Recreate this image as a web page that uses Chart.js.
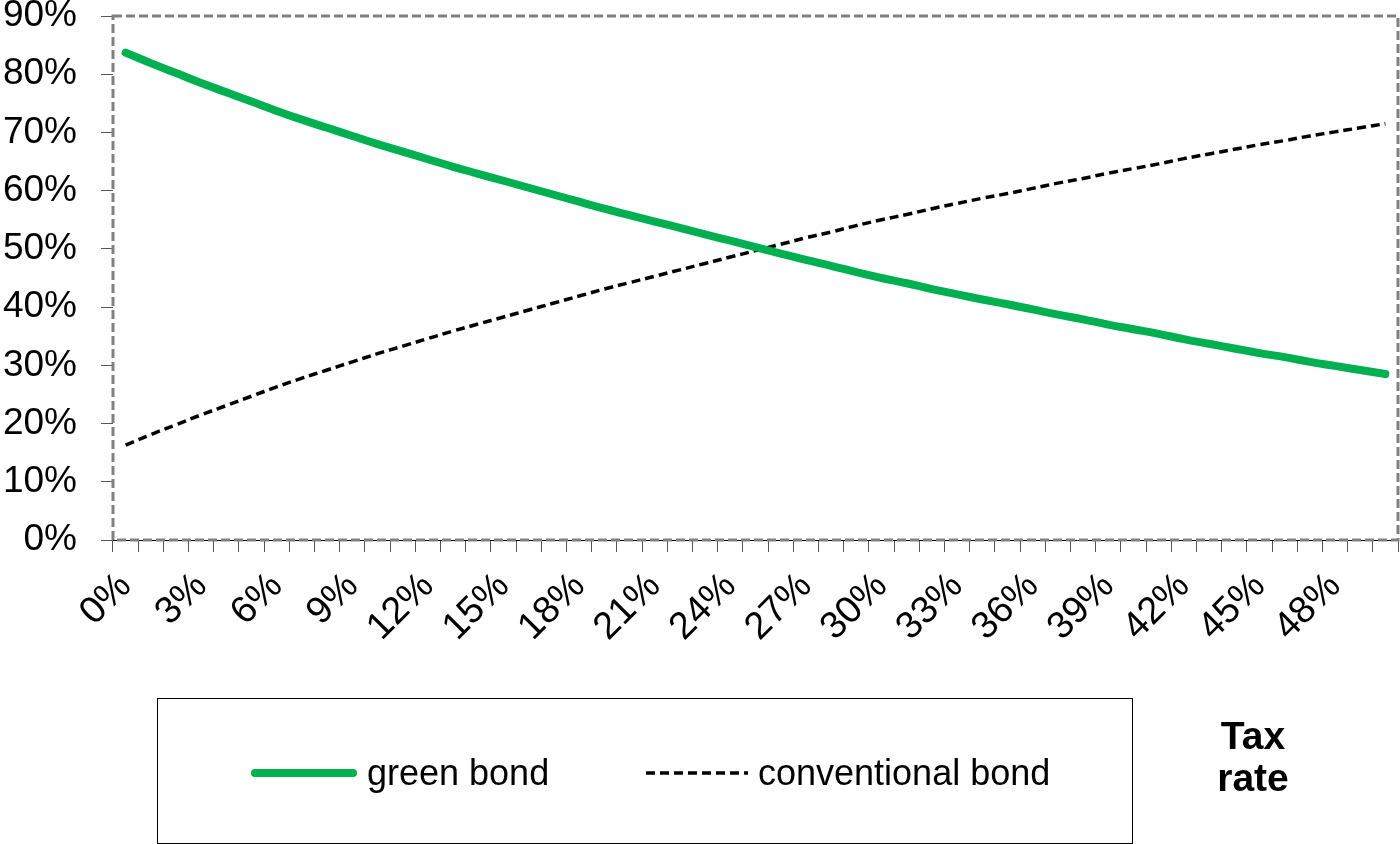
<!DOCTYPE html>
<html>
<head>
<meta charset="utf-8">
<script src="https://cdn.jsdelivr.net/npm/chart.js@4"></script>
<style>
  body { margin: 0; background: #fff; font-family: "Liberation Sans", Arial, sans-serif; }
  #wrap { position: relative; width: 1400px; height: 844px; }
  #legend-box { position: absolute; left: 157px; top: 698px; width: 976px; height: 146px;
    border: 1px solid #000; box-sizing: border-box; }
  .legend-item { position: absolute; top: 54px; height: 40px; display: flex; align-items: center;
    font-size: 36px; color: #000; white-space: nowrap; }
  .legend-item svg { margin-right: 10px; }
  #axis-title { position: absolute; left: 1198px; top: 715px; width: 110px; text-align: center;
    font-size: 39px; font-weight: bold; line-height: 42px; color: #000; }
</style>
</head>
<body>
<div id="wrap">
  <canvas id="chart-tax" width="1400" height="844"></canvas>
  <div id="legend-box"></div>
  <div id="axis-title">Tax<br>rate</div>
</div>
<script>
// --- data ---
const taxRates = ['0%','1%','2%','3%','4%','5%','6%','7%','8%','9%','10%',
  '11%','12%','13%','14%','15%','16%','17%','18%','19%','20%',
  '21%','22%','23%','24%','25%','26%','27%','28%','29%','30%',
  '31%','32%','33%','34%','35%','36%','37%','38%','39%','40%',
  '41%','42%','43%','44%','45%','46%','47%','48%','49%','50%'];

const greenBond = [83.7,81.9,80.2,78.5,76.9,75.3,73.7,72.2,70.8,69.4,68.0,
  66.7,65.4,64.1,62.9,61.7,60.5,59.3,58.1,56.9,55.8,
  54.7,53.6,52.5,51.4,50.3,49.2,48.1,47.1,46.0,45.0,
  44.1,43.1,42.2,41.3,40.5,39.6,38.7,37.9,37.0,36.2,
  35.4,34.5,33.7,32.9,32.1,31.4,30.6,29.9,29.2,28.5];

const conventionalBond = [16.3,18.1,19.8,21.5,23.1,24.7,26.3,27.8,29.2,30.6,32.0,
  33.3,34.6,35.9,37.1,38.3,39.5,40.7,41.9,43.1,44.2,
  45.3,46.4,47.5,48.6,49.7,50.8,51.9,52.9,54.0,55.0,
  55.9,56.9,57.8,58.7,59.5,60.4,61.3,62.1,63.0,63.8,
  64.6,65.5,66.3,67.1,67.9,68.6,69.4,70.1,70.8,71.5];

const seriesNames = ['green bond', 'conventional bond'];

// gray dashed frame around the plot area
const plotFrame = {
  id: 'plotFrame',
  beforeDatasetsDraw(chart) {
    const a = chart.chartArea;
    const ctx = chart.ctx;
    ctx.save();
    ctx.strokeStyle = '#808080';
    ctx.lineWidth = 3;
    ctx.setLineDash([9, 4]);
    ctx.strokeRect(a.left, a.top, a.right - a.left, a.bottom - a.top);
    ctx.restore();
  }
};

const tickFont = { family: '"Liberation Sans", Arial, sans-serif', size: 37 };

const chart = new Chart(document.getElementById('chart-tax'), {
  type: 'line',
  data: {
    labels: taxRates,
    datasets: [{
      label: seriesNames[0],
      data: greenBond,
      borderColor: '#00B050',
      borderWidth: 8,
      borderCapStyle: 'round',
      pointRadius: 0,
      tension: 0.4,
      fill: false
    }, {
      label: seriesNames[1],
      data: conventionalBond,
      borderColor: '#000000',
      borderWidth: 3.5,
      borderDash: [9, 5],
      pointRadius: 0,
      tension: 0.4,
      fill: false
    }]
  },
  options: {
    responsive: false,
    animation: false,
    layout: { padding: { left: 0, right: 2, top: 16, bottom: 0 } },
    plugins: { legend: { display: false }, tooltip: { enabled: false } },
    scales: {
      x: {
        type: 'category',
        offset: true,
        grid: { offset: true, drawOnChartArea: false, drawTicks: true, tickLength: 12, color: '#555' },
        border: { display: true, color: '#000', width: 1 },
        ticks: {
          autoSkip: false, minRotation: 45, maxRotation: 45, padding: 12,
          color: '#000', font: { family: tickFont.family, size: 38 },
          callback: (v, i) => i % 3 === 0 ? taxRates[i] : ''
        },
        afterFit(scale) {
          scale.height = 304;
          scale.paddingLeft = 0;
          scale.paddingRight = 0;
        }
      },
      y: {
        min: 0, max: 90,
        grid: { drawOnChartArea: false, drawTicks: true, tickLength: 12, color: '#555' },
        border: { display: false },
        ticks: {
          stepSize: 10, padding: 24, color: '#000', font: tickFont,
          callback: v => v + '%'
        },
        afterFit(scale) {
          scale.width = 113;
          scale.paddingTop = 0;
          scale.paddingBottom = 0;
        }
      }
    }
  },
  plugins: [plotFrame]
});

// --- legend in a box below the chart ---
function drawLegend() {
  const box = document.getElementById('legend-box');
  const lefts = [93, 488];
  chart.data.datasets.forEach((ds, i) => {
    const item = document.createElement('div');
    item.className = 'legend-item';
    item.style.left = lefts[i] + 'px';
    const w = i === 0 ? 106 : 102;
    const dash = ds.borderDash ? 'stroke-dasharray="' + ds.borderDash.join(' ') + '"' : '';
    const cap = ds.borderCapStyle === 'round' ? 'round' : 'butt';
    item.innerHTML = '<svg width="' + w + '" height="12"><line x1="' + (cap === 'round' ? 4 : 0) +
      '" y1="6" x2="' + (cap === 'round' ? w - 4 : w) + '" y2="6" stroke="' + ds.borderColor +
      '" stroke-width="' + Math.min(ds.borderWidth, 8) + '" stroke-linecap="' + cap + '" ' + dash + '/></svg>' +
      '<span>' + ds.label + '</span>';
    box.appendChild(item);
  });
}
drawLegend();
</script>
</body>
</html>
